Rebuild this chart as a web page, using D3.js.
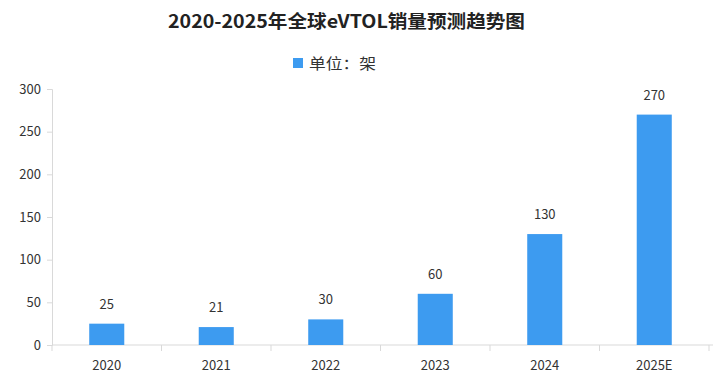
<!DOCTYPE html>
<html><head><meta charset="utf-8">
<script src="https://cdn.jsdelivr.net/npm/d3@7"></script>
<style>body{margin:0;background:#fff}svg{display:block}</style>
</head><body>
<svg id="c" width="721" height="380"></svg>
<script>
const categories = ["2020","2021","2022","2023","2024","2025E"];
const values = [25,21,30,60,130,270];
const yTicks = [0,50,100,150,200,250,300];
const title = "2020-2025年全球eVTOL销量预测趋势图";
const legendLabel = "单位：架";

const svg = d3.select("#c");
const m = {l:52, r:12, t:89, b:35};
const W = 721, H = 380;
const x = d3.scaleBand().domain(categories).range([m.l, W - m.r]).paddingInner(0.68).paddingOuter(0.34);
const y = d3.scaleLinear().domain([0,300]).range([345, 89]);
const font = "'Noto Sans CJK SC', 'DejaVu Sans', sans-serif";
const color = "#3d9bf0";

svg.append("text").attr("x", 168).attr("y", 28)
  .attr("textLength", 357).attr("lengthAdjust","spacingAndGlyphs")
  .attr("font-family", font).attr("font-weight","bold").attr("font-size",18).attr("fill","#222").text(title);

svg.append("rect").attr("x",293).attr("y",58).attr("width",10).attr("height",10).attr("fill",color);
svg.append("text").attr("x",309).attr("y",69).attr("textLength",67).attr("lengthAdjust","spacingAndGlyphs")
  .attr("font-family",font).attr("font-size",15).attr("fill","#333").text(legendLabel);

// y axis
const ya = svg.append("g").attr("transform",`translate(${m.l},0)`)
  .call(d3.axisLeft(y).tickValues(yTicks).tickSize(5).tickPadding(6));
ya.select(".domain").attr("stroke","#d9d9d9");
ya.selectAll(".tick line").attr("stroke","#d9d9d9");
ya.selectAll("text").attr("font-family",font).attr("font-size",13).attr("fill","#333");

// x axis
const xa = svg.append("g").attr("transform",`translate(0,${y(0)})`);
xa.append("line").attr("x1",m.l).attr("x2",W-m.r+4).attr("stroke","#d9d9d9");
const bounds = d3.range(categories.length+1).map(i => m.l + i*(W-m.r-m.l)/categories.length);
xa.selectAll("line.tk").data(bounds).join("line").attr("class","tk")
  .attr("x1",d=>d).attr("x2",d=>d).attr("y1",0).attr("y2",6).attr("stroke","#d9d9d9");
xa.selectAll("text").data(categories).join("text")
  .attr("x",d=>x(d)+x.bandwidth()/2).attr("y",25).attr("text-anchor","middle")
  .attr("font-family",font).attr("font-size",13).attr("fill","#333").text(d=>d);

// bars
svg.selectAll("rect.bar").data(values).join("rect").attr("class","bar")
  .attr("x",(d,i)=>x(categories[i])).attr("width",x.bandwidth())
  .attr("y",d=>y(d)).attr("height",d=>y(0)-y(d)).attr("fill",color);

svg.selectAll("text.lbl").data(values).join("text").attr("class","lbl")
  .attr("x",(d,i)=>x(categories[i])+x.bandwidth()/2).attr("y",d=>y(d)-15)
  .attr("text-anchor","middle").attr("font-family",font).attr("font-size",13).attr("fill","#333").text(d=>d);
</script>
</body></html>
